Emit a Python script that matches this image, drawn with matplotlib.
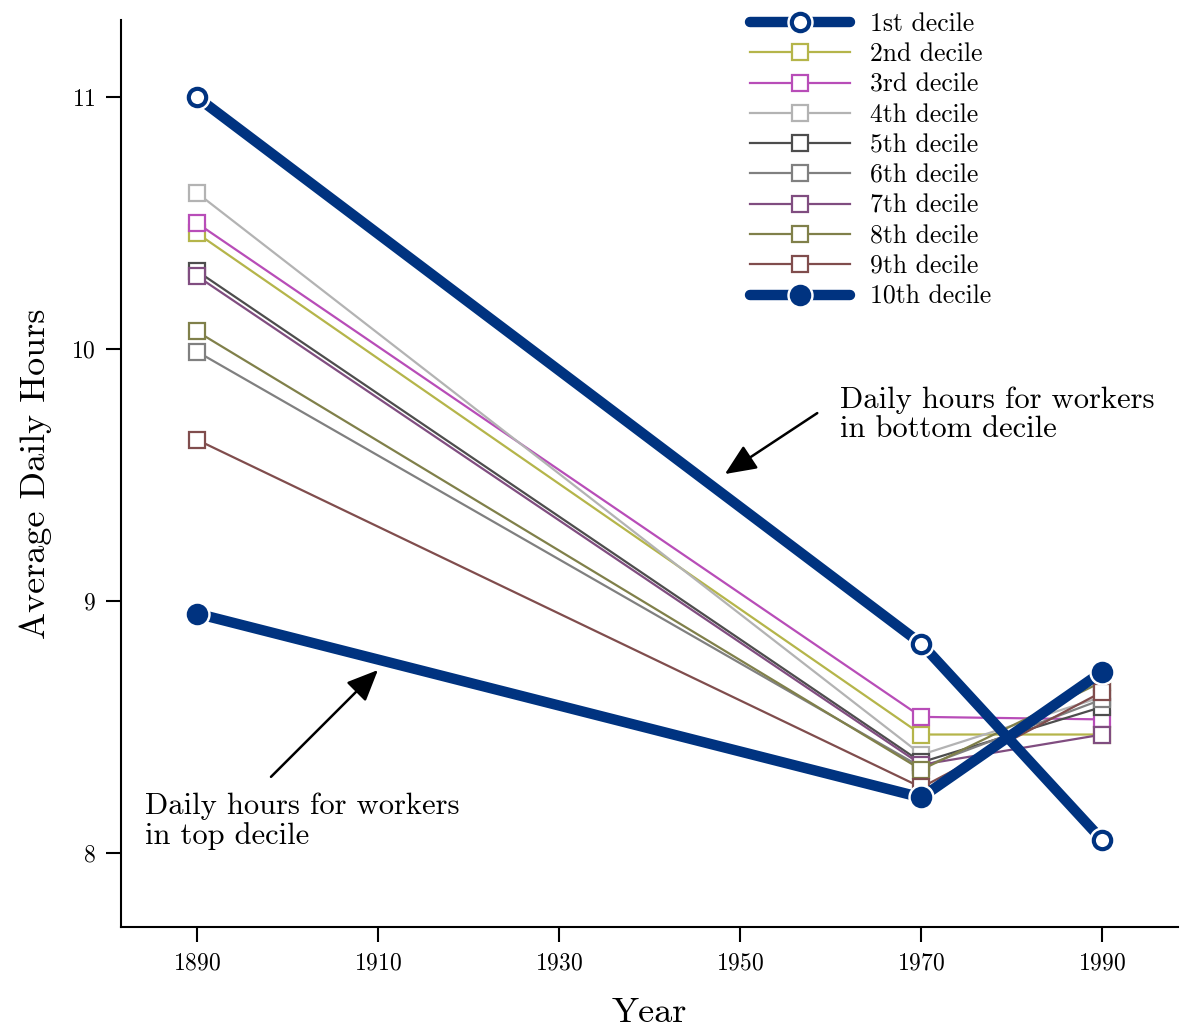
import numpy as np
from matplotlib import pyplot as plt
from matplotlib.legend_handler import HandlerTuple

plt.rcParams['font.family'] = 'serif'
plt.rcParams['font.serif'] = ['cmr10', 'DejaVu Serif']
plt.rcParams['mathtext.fontset'] = 'cm'
plt.rcParams['axes.formatter.use_mathtext'] = True

years = [1890, 1970, 1990]
labels = ["1st decile", "2nd decile", "3rd decile", "4th decile", "5th decile",
          "6th decile", "7th decile", "8th decile", "9th decile", "10th decile"]
hours = [
    [11.00, 8.83, 8.05],
    [10.46, 8.47, 8.47],
    [10.50, 8.54, 8.53],
    [10.62, 8.39, 8.62],
    [10.31, 8.36, 8.58],
    [9.99, 8.34, 8.61],
    [10.29, 8.35, 8.47],
    [10.07, 8.33, 8.68],
    [9.64, 8.26, 8.64],
    [8.95, 8.22, 8.72],
]
colors = ["#003380", "#b5b54a", "#b84db8", "#b3b3b3", "#4d4d4d",
          "#808080", "#804d80", "#80804a", "#804d4d", "#003380"]

fig = plt.figure(figsize=[11.8, 10.27], dpi=100)
ax = fig.add_axes([0.1025, 0.0974, 0.8955, 0.883])

handles = []
for i in range(10):
    if i in (0, 9):
        # thick extremes: line, white halo, then the circle marker
        ln, = ax.plot(years, hours[i], color=colors[i], lw=7.5,
                      solid_capstyle="round", zorder=3)
        halo, = ax.plot(years, hours[i], ls="none", marker="o", ms=18,
                        mfc="white", mec="white", zorder=4)
        face = "white" if i == 0 else colors[i]
        mk, = ax.plot(years, hours[i], ls="none", marker="o", ms=12.5,
                      mfc=face, mec=colors[i], mew=3, zorder=5)
        handles.append((ln, halo, mk))
    else:
        ln, = ax.plot(years, hours[i], color=colors[i], lw=1.6, marker="s", ms=11,
                      mfc="white", mec=colors[i], mew=1.6, zorder=2)
        handles.append(ln)

ax.set_xlim(1881.6, 1998.3)
ax.set_ylim(7.706, 11.306)
ax.set_xticks([1890, 1910, 1930, 1950, 1970, 1990])
ax.set_yticks([8, 9, 10, 11])
ax.spines["top"].set_visible(False)
ax.spines["right"].set_visible(False)
ax.spines["left"].set_linewidth(1.5)
ax.spines["bottom"].set_linewidth(1.5)
ax.tick_params(direction="out", length=11, width=1.5, labelsize=17, pad=7)
ax.set_xlabel("Year", fontsize=26, labelpad=17)
ax.set_ylabel("Average Daily Hours", fontsize=26, labelpad=14)

ax.legend(handles, labels, handler_map={tuple: HandlerTuple(ndivide=1)},
          loc="upper left", bbox_to_anchor=(0.5856, 1.02), borderaxespad=0,
          frameon=False, fontsize=18.5, handlelength=3.9, labelspacing=0.255,
          handletextpad=0.78)

ax.text(1884.26, 8.238, "Daily hours for workers\nin top decile", fontsize=22,
        va="top", ha="left", linespacing=1.08)
ax.text(1961.05, 9.853, "Daily hours for workers\nin bottom decile", fontsize=22,
        va="top", ha="left", linespacing=1.08)
arrow = dict(arrowstyle="-|>,head_length=0.8,head_width=0.35", color="black",
             lw=1.8, mutation_scale=24, shrinkA=0, shrinkB=0)
ax.annotate("", xy=(1948.3, 9.504), xytext=(1958.5, 9.746), arrowprops=arrow)
ax.annotate("", xy=(1909.98, 8.726), xytext=(1898.17, 8.302), arrowprops=arrow)

plt.savefig("out.png", dpi=100)
